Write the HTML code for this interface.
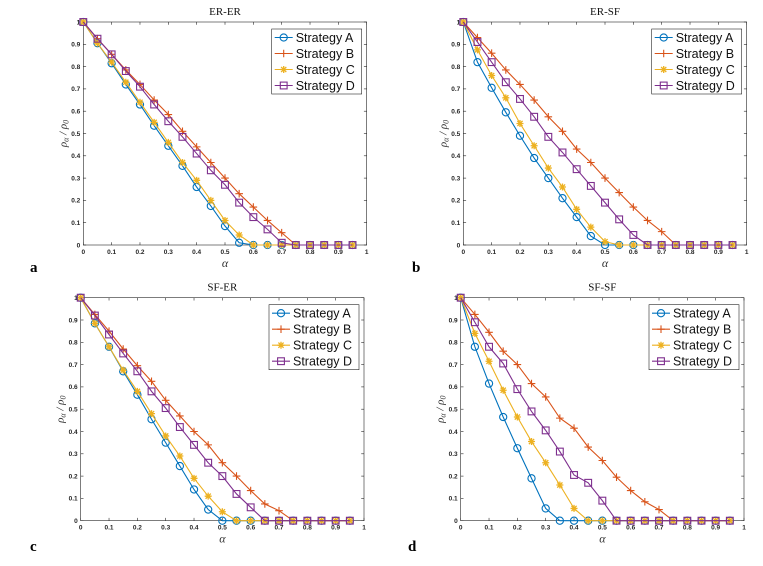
<!DOCTYPE html>
<html><head><meta charset="utf-8">
<style>
html,body{margin:0;padding:0;background:#fff;}
svg{display:block;}
</style></head>
<body>
<svg id="fig" width="763" height="566" viewBox="0 0 763 566" xmlns="http://www.w3.org/2000/svg"></svg>
<script>
const xs = [0,0.05,0.1,0.15,0.2,0.25,0.3,0.35,0.4,0.45,0.5,0.55,0.6,0.65,0.7,0.75,0.8,0.85,0.9,0.95];
const seriesNames = ["Strategy A","Strategy B","Strategy C","Strategy D"];
const panelTitles = ["ER-ER","ER-SF","SF-ER","SF-SF"];
const panelLetters = ["a","b","c","d"];
const xTicks = [0,0.1,0.2,0.3,0.4,0.5,0.6,0.7,0.8,0.9,1];
const yTicks = [0,0.1,0.2,0.3,0.4,0.5,0.6,0.7,0.8,0.9,1];
const erA = [1,.905,.815,.72,.63,.535,.445,.355,.26,.175,.085,.01,0,0,0,0,0,0,0,0];
const erB = [1,.925,.855,.785,.72,.65,.585,.51,.44,.37,.30,.23,.17,.11,.055,0,0,0,0,0];
const erC = [1,.905,.82,.73,.64,.55,.46,.37,.29,.20,.11,.045,0,0,0,0,0,0,0,0];
const erD = [1,.925,.855,.78,.71,.63,.555,.485,.41,.335,.27,.19,.125,.07,.01,0,0,0,0,0];
const esA = [1,.82,.705,.595,.49,.39,.30,.21,.125,.04,0,0,0,0,0,0,0,0,0,0];
const esB = [1,.93,.86,.785,.72,.65,.575,.51,.43,.37,.30,.235,.17,.11,.06,0,0,0,0,0];
const esC = [1,.875,.76,.66,.545,.445,.345,.26,.16,.08,.015,0,0,0,0,0,0,0,0,0];
const esD = [1,.91,.82,.73,.655,.575,.485,.415,.34,.265,.19,.115,.045,0,0,0,0,0,0,0];
const seA = [1,.885,.78,.67,.565,.455,.35,.245,.14,.05,0,0,0,0,0,0,0,0,0,0];
const seB = [1,.925,.85,.77,.695,.625,.54,.47,.40,.34,.26,.20,.135,.075,.045,0,0,0,0,0];
const seC = [1,.885,.78,.675,.58,.48,.38,.29,.19,.11,.04,0,0,0,0,0,0,0,0,0];
const seD = [1,.92,.835,.75,.67,.58,.505,.42,.34,.26,.20,.12,.06,0,0,0,0,0,0,0];
const ssA = [1,.78,.615,.465,.325,.19,.055,0,0,0,0,0,0,0,0,0,0,0,0,0];
const ssB = [1,.925,.845,.76,.70,.615,.555,.46,.415,.33,.27,.195,.135,.085,.05,0,0,0,0,0];
const ssC = [1,.84,.715,.585,.465,.355,.26,.16,.055,0,0,0,0,0,0,0,0,0,0,0];
const ssD = [1,.89,.78,.705,.59,.49,.405,.31,.205,.17,.09,0,0,0,0,0,0,0,0,0];
const panelData = [[erA,erB,erC,erD],[esA,esB,esC,esD],[seA,seB,seC,seD],[ssA,ssB,ssC,ssD]];

const colors = ["#0072BD","#D95319","#EDB120","#7E2F8E"];
const boxes = [
  {x0:83.3,x1:366.7,y0:245,y1:22,lx:30,ly:272},
  {x0:463.3,x1:746.7,y0:245,y1:22,lx:412,ly:272},
  {x0:80.7,x1:364,y0:520.7,y1:297.7,lx:30,ly:551},
  {x0:460.7,x1:744,y0:520.7,y1:297.7,lx:408,ly:551}
];
const NS="http://www.w3.org/2000/svg";
const svg=document.getElementById('fig');
function mk(tag,attrs,parent){const e=document.createElementNS(NS,tag);for(const k in attrs)e.setAttribute(k,attrs[k]);(parent||svg).appendChild(e);return e;}
function marker(g,type,cx,cy,col){
  if(type===0){mk('circle',{cx:cx,cy:cy,r:3.6,fill:'none',stroke:col,'stroke-width':1.1},g);}
  else if(type===1){mk('path',{d:`M${cx-3.8},${cy}H${cx+3.8}M${cx},${cy-3.8}V${cy+3.8}`,stroke:col,'stroke-width':1.1,fill:'none'},g);}
  else if(type===2){mk('path',{d:`M${cx-3.5},${cy}H${cx+3.5}M${cx},${cy-3.5}V${cy+3.5}M${cx-2.6},${cy-2.6}L${cx+2.6},${cy+2.6}M${cx-2.6},${cy+2.6}L${cx+2.6},${cy-2.6}`,stroke:col,'stroke-width':1.3,fill:'none'},g);}
  else {mk('rect',{x:cx-3.4,y:cy-3.4,width:6.8,height:6.8,fill:'none',stroke:col,'stroke-width':1.1},g);}
}
boxes.forEach((b,pi)=>{
  const g=mk('g',{});
  
  
  const sx=v=>b.x0+(b.x1-b.x0)*v;
  const sy=v=>b.y0+(b.y1-b.y0)*v;
  mk('rect',{x:b.x0,y:b.y1,width:b.x1-b.x0,height:b.y0-b.y1,fill:'#fff',stroke:'#262626','stroke-width':0.6},g);
  xTicks.forEach(t=>{
    mk('line',{x1:sx(t),x2:sx(t),y1:b.y0,y2:b.y0-2.8,stroke:'#262626','stroke-width':0.6},g);
    mk('line',{x1:sx(t),x2:sx(t),y1:b.y1,y2:b.y1+2.8,stroke:'#262626','stroke-width':0.6},g);
    const tx=mk('text',{x:sx(t),y:b.y0+9,'font-size':6.5,'font-family':'Liberation Sans, sans-serif','font-weight':'bold','text-anchor':'middle',fill:'#262626'},g);
    
    
    tx.textContent=String(t);
  });
  yTicks.forEach(t=>{
    mk('line',{x1:b.x0,x2:b.x0+2.8,y1:sy(t),y2:sy(t),stroke:'#262626','stroke-width':0.6},g);
    mk('line',{x1:b.x1,x2:b.x1-2.8,y1:sy(t),y2:sy(t),stroke:'#262626','stroke-width':0.6},g);
    const tx=mk('text',{x:b.x0-3,y:sy(t)+2.3,'font-size':6.5,'font-family':'Liberation Sans, sans-serif','font-weight':'bold','text-anchor':'end',fill:'#262626'},g);
    
    
    tx.textContent=String(t);
  });
  const cx=(b.x0+b.x1)/2;
  const title=mk('text',{x:cx,y:b.y1-7,'font-size':11,'font-family':'Liberation Serif, serif','text-anchor':'middle',fill:'#111'},g);
  
  
  title.textContent=panelTitles[pi];
  const xl=mk('text',{x:cx,y:b.y0+22,'font-size':12,'font-style':'italic','font-family':'Liberation Serif, serif','text-anchor':'middle',fill:'#333'},g);
  
  
  xl.textContent='α';
  const ym=(b.y0+b.y1)/2;
  const yl=mk('text',{x:0,y:0,transform:`translate(${b.x0-17},${ym}) rotate(-90)`,'font-size':11,'font-style':'italic','font-family':'Liberation Serif, serif','text-anchor':'middle',fill:'#333'},g);
  
  
  yl.innerHTML='ρ<tspan font-size="8" dy="2">α</tspan><tspan dy="-2"> / ρ</tspan><tspan font-size="8" dy="2">0</tspan>';
  const lt=mk('text',{x:b.lx,y:b.ly,'font-size':15,'font-family':'Liberation Serif, serif','font-weight':'bold',fill:'#000'},g);
  
  
  lt.textContent=panelLetters[pi];
  panelData[pi].forEach((ys,si)=>{
    const sg=mk('g',{},g);
    
    
    const pts=xs.map((x,i)=>sx(x).toFixed(2)+','+sy(ys[i]).toFixed(2)).join(' ');
    mk('polyline',{points:pts,fill:'none',stroke:colors[si],'stroke-width':1.1},sg);
    xs.forEach((x,i)=>marker(sg,si,sx(x),sy(ys[i]),colors[si]));
  });
  // legend
  const lw=90, lh=65;
  const lx=b.x1-5-lw, ly=b.y1+7;
  const lg=mk('g',{},g);
  
  
  mk('rect',{x:lx,y:ly,width:lw,height:lh,fill:'#fff',stroke:'#262626','stroke-width':0.6},lg);
  seriesNames.forEach((n,si)=>{
    const ey=ly+8.5+si*16;
    const eg=mk('g',{},lg);
    
    
    mk('line',{x1:lx+3,x2:lx+21,y1:ey,y2:ey,stroke:colors[si],'stroke-width':1.1},eg);
    marker(eg,si,lx+12,ey,colors[si]);
    const t=mk('text',{x:lx+24,y:ey+4.5,'font-size':12.5,'font-family':'Liberation Sans, sans-serif',fill:'#111'},eg);
    t.textContent=n;
  });
});
</script>
</body></html>
